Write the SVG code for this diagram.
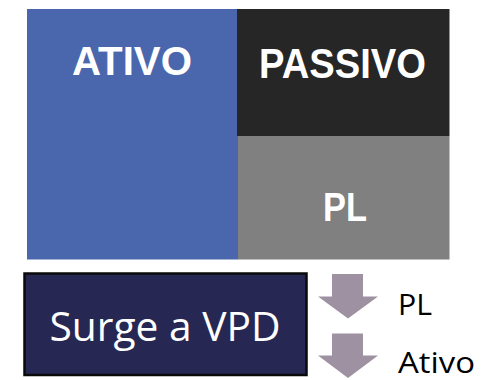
<svg xmlns="http://www.w3.org/2000/svg" width="483" height="380" viewBox="0 0 483 380">
<style>
.big{font-family:"Liberation Sans",Arial,sans-serif;font-weight:bold;fill:#fff;text-anchor:middle}
.reg{font-family:"Open Sans","Liberation Sans",sans-serif;fill:#000}
.arr{fill:#9E91A1}
</style>
<rect width="483" height="380" fill="#fff"/>
<g id="ativo">
<rect x="27" y="9" width="211" height="250.5" fill="#4A67AE"/>
<text class="big" x="132" y="75" font-size="41" textLength="120" lengthAdjust="spacingAndGlyphs">ATIVO</text>
</g>
<g id="passivo">
<rect x="237" y="9" width="212.5" height="127" fill="#262626"/>
<text class="big" x="342.5" y="78" font-size="42" textLength="167" lengthAdjust="spacingAndGlyphs">PASSIVO</text>
</g>
<g id="pl">
<rect x="238" y="136" width="211.5" height="123.5" fill="#808080"/>
<text class="big" x="345" y="221" font-size="40" textLength="44" lengthAdjust="spacingAndGlyphs">PL</text>
</g>
<g id="vpd">
<rect x="24.5" y="273.5" width="282" height="101.5" fill="#262853" stroke="#0a0a0a" stroke-width="2.5"/>
<text x="165" y="340.5" font-family="Open Sans,Liberation Sans,sans-serif" font-size="41" fill="#fff" text-anchor="middle" textLength="231" lengthAdjust="spacingAndGlyphs">Surge a VPD</text>
</g>
<g id="connectors">
<polygon class="arr" points="332,274 363,274 363,296.5 378,296.5 348,318.5 318,296.5 332,296.5"/>
<polygon class="arr" points="332,333.5 363,333.5 363,355.5 378,355.5 348,378 318,355.5 332,355.5"/>
</g>
<g id="label-pl">
<text class="reg" x="398" y="315" font-size="29.5" textLength="34" lengthAdjust="spacingAndGlyphs">PL</text>
</g>
<g id="label-ativo">
<text class="reg" x="398" y="372.5" font-size="29.5" textLength="77" lengthAdjust="spacingAndGlyphs">Ativo</text>
</g>
</svg>
